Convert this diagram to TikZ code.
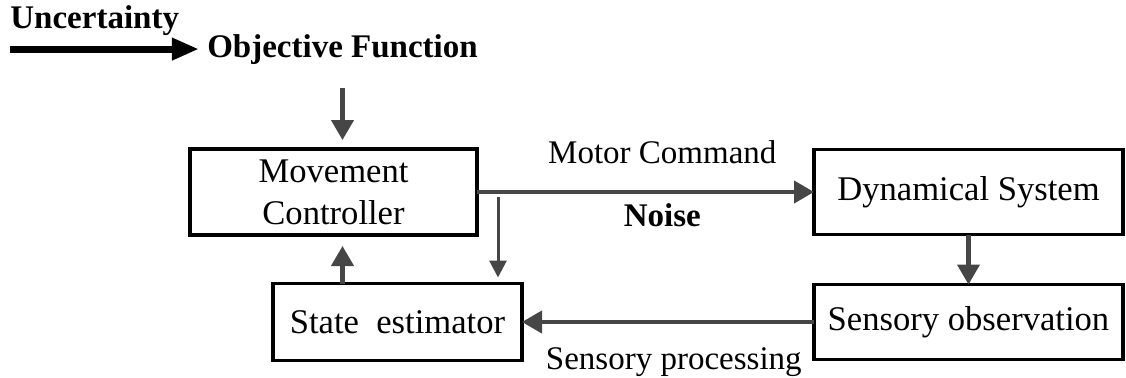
\documentclass[tikz,border=0pt]{standalone}
\usepackage{fontspec}
\setmainfont{Liberation Serif}
\usetikzlibrary{positioning}
\usetikzlibrary{arrows.meta}
\definecolor{pfeilgrau}{HTML}{464646}

\begin{document}
\begin{tikzpicture} [x=0.5pt, y=-0.5pt,
        block/.style = {draw, line width=1.75pt, outer sep=0pt, inner sep=0pt, align=center,
            font=\fontsize{17.3pt}{21pt}\selectfont},
        txt/.style = {inner sep=0pt, font=\fontsize{16.5pt}{20pt}\selectfont},
        pfeil/.style = {draw=pfeilgrau, line width=2.1pt, -{Triangle[length=10pt, width=11pt]}},
        duenn/.style = {draw=pfeilgrau, line width=1.5pt, -{Triangle[length=8.5pt, width=8.5pt]}}]
        \useasboundingbox (0,0) rectangle (1126,377);

        %Knoten
        \node[block, minimum width=143.5pt, minimum height=43pt] (mc) at (333.5,192) {Movement\\Controller};
        \node[block, minimum width=154.5pt, minimum height=42.5pt] (ds) [right = 168.5pt of mc] {Dynamical System};
        \node[block, minimum width=154.5pt, minimum height=37.5pt] (so) [below = 25pt of ds] {Sensory observation};
        \node[block, minimum width=124.5pt, minimum height=38.5pt] (se) [left = 146pt of so] {State\ \ estimator};

        \node[txt, anchor=base west] (unc) at (10,28) {\textbf{Uncertainty}};
        \node[txt, anchor=base, inner xsep=4pt] (obj) at (342.5,57) {\textbf{Objective Function}};

        \coordinate (zw) at ([xshift=10.5pt, yshift=-2.5pt]mc.east);

        %Kanten
        \draw[line width=3.5pt, -{Triangle[length=13.5pt, width=10.5pt]}] (unc.west |- obj.west) -- (obj.west);
        \draw[pfeil, shorten <=12pt, shorten >=4.5pt] (obj) -- (obj |- mc.north);

        \draw[pfeil] (mc) -- (ds) node[txt, pos=0.55, above=13pt] {Motor Command}
            node[txt, pos=0.55, below=4.5pt] {\textbf{Noise}};
        \draw[duenn, shorten >=3pt] (zw) -- (zw |- se.north);

        \draw[pfeil] (ds) -- (so);
        \draw[pfeil] (so) -- (se) node[txt, pos=0.48, below=11.8pt] {Sensory processing};
        \draw[pfeil, shorten >=5.5pt] (se.north -| obj) -- (mc.south -| obj);

    \end{tikzpicture}
\end{document}
